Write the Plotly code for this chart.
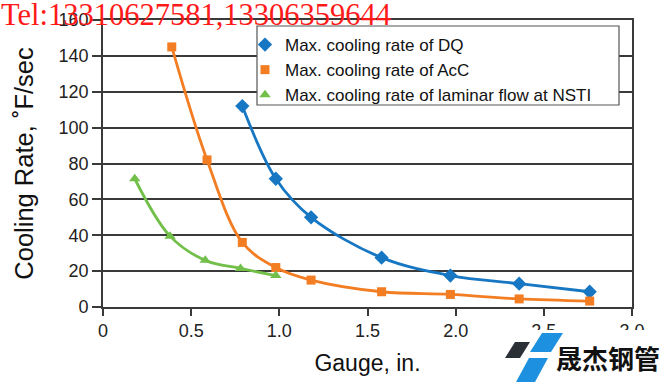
import plotly.graph_objects as go

# ---- data ----
dq_gauge = [0.79, 0.98, 1.18, 1.58, 1.97, 2.36, 2.76]
dq_rate = [112, 71.5, 50, 27.5, 17.5, 13, 8.5]

acc_gauge = [0.39, 0.59, 0.79, 0.98, 1.18, 1.58, 1.97, 2.36, 2.76]
acc_rate = [145, 82, 36, 22, 15, 8.5, 7, 4.5, 3.3]

nsti_gauge = [0.18, 0.38, 0.58, 0.78, 0.98]
nsti_rate = [71.5, 39.5, 26, 21.5, 17.5]

series_names = [
    "Max. cooling rate of DQ",
    "Max. cooling rate of AcC",
    "Max. cooling rate of laminar flow at NSTI",
]
x_ticks = [0, 0.5, 1.0, 1.5, 2.0, 2.5, 3.0]
x_ticktext = ["0", "0.5", "1.0", "1.5", "2.0", "2.5", "3.0"]
y_ticks = [0, 20, 40, 60, 80, 100, 120, 140, 160]

W, H = 664, 382
ML, MR, MT, MB = 103, 32, 20, 75
PW, PH = W - ML - MR, H - MT - MB


def px(x):
    return (x - ML) / PW


def py(y):
    return (H - MB - y) / PH


BLUE = "#1777c2"
ORANGE = "#f27d22"
GREEN = "#72bf4a"
FONT = "Liberation Sans, Arial, sans-serif"

fig = go.Figure()
specs = [
    (dq_gauge, dq_rate, BLUE, "diamond", 11),
    (acc_gauge, acc_rate, ORANGE, "square", 9),
    (nsti_gauge, nsti_rate, GREEN, "triangle-up", 10),
]
for (xs, ys, c, sym, sz), name in zip(specs, series_names):
    fig.add_trace(go.Scatter(x=xs, y=ys, mode="lines", line=dict(color=c, width=2.8, shape="spline", smoothing=1.0),
                             showlegend=False, hoverinfo="skip"))
for (xs, ys, c, sym, sz), name in zip(specs, series_names):
    fig.add_trace(go.Scatter(x=xs, y=ys, mode="markers", name=name,
                             marker=dict(color=c, symbol=sym, size=sz, line=dict(width=0))))

AX = "#3a3a3a"
fig.update_xaxes(range=[0, 3], tickvals=x_ticks, ticktext=x_ticktext, showgrid=False,
                 showline=True, linecolor=AX, linewidth=1.6, mirror=True,
                 ticks="outside", ticklen=7, tickwidth=1.6, tickcolor=AX,
                 tickfont=dict(family=FONT, size=18, color="#222"),
                 title=dict(text="Gauge, in.", font=dict(family=FONT, size=23, color="#111"), standoff=14),
                 zeroline=False, automargin=False)
fig.update_yaxes(range=[0, 160], tickvals=y_ticks, showgrid=True, gridcolor=AX, gridwidth=1.6,
                 showline=True, linecolor=AX, linewidth=1.6, mirror=True,
                 ticks="outside", ticklen=9, tickwidth=1.6, tickcolor=AX,
                 tickfont=dict(family=FONT, size=18, color="#222"),
                 title=dict(text="Cooling Rate, ˚F/sec", font=dict(family=FONT, size=25.5, color="#111"), standoff=18),
                 zeroline=False, automargin=False)

shapes = [
    # legend box
    dict(type="rect", xref="paper", yref="paper", x0=px(257), x1=px(619), y0=py(105), y1=py(26),
         fillcolor="white", line=dict(color="#555", width=1.2), layer="above"),
    # logo white backing
    dict(type="rect", xref="paper", yref="paper", x0=px(500), x1=px(664), y0=py(382), y1=py(330),
         fillcolor="white", line=dict(width=0), layer="above"),
]


def poly(pts, color):
    d = "M " + " L ".join(f"{px(a)},{py(b)}" for a, b in pts) + " Z"
    return dict(type="path", xref="paper", yref="paper", path=d, fillcolor=color, line=dict(width=0), layer="above")


shapes.append(poly([(515, 342), (530, 342), (520, 358), (505, 358)], "#2b2f36"))
shapes.append(poly([(542, 333), (563, 333), (551, 352), (530, 352)], "#1e90e0"))
shapes.append(poly([(529, 358), (548, 358), (535, 382), (516, 382)], "#1e90e0"))

annotations = [
    dict(text="Tel:13310627581,13306359644", xref="paper", yref="paper", x=px(-1), y=py(15),
         xanchor="left", yanchor="middle", showarrow=False,
         font=dict(family="Liberation Serif, Times New Roman, serif", size=30.5, color="#ff1a1a")),
    dict(text="<b>晟杰钢管</b>", xref="paper", yref="paper", x=px(554), y=py(357),
         xanchor="left", yanchor="middle", showarrow=False,
         font=dict(family="Noto Sans CJK SC", size=26, color="#111")),
]

fig.update_layout(
    width=W, height=H, margin=dict(l=ML, r=MR, t=MT, b=MB),
    paper_bgcolor="white", plot_bgcolor="white",
    shapes=shapes, annotations=annotations,
    legend=dict(x=px(245), y=py(27), xanchor="left", yanchor="top", bgcolor="rgba(0,0,0,0)",
                borderwidth=0, font=dict(family=FONT, size=17, color="#111"), itemwidth=30,
                tracegroupgap=0),
    showlegend=True,
)

fig.write_html("out.html", config={"displayModeBar": False},
               post_script="document.body.style.margin='0';document.body.style.overflow='hidden';")
